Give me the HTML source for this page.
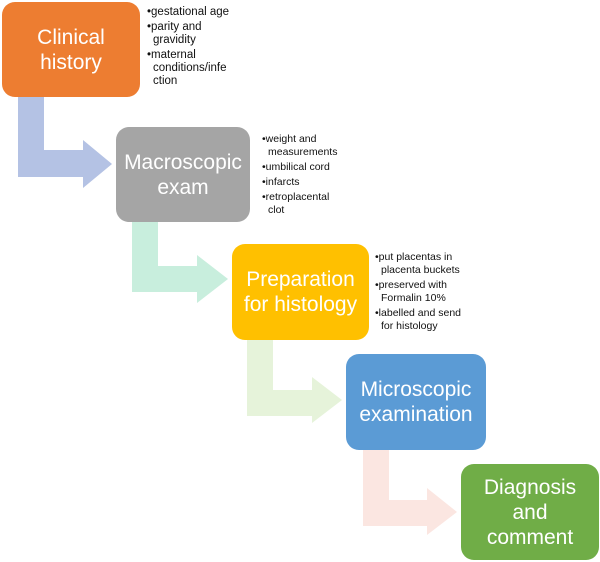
<!DOCTYPE html>
<html><head><style>
body{margin:0;width:600px;height:562px;background:#fff;position:relative;overflow:hidden;font-family:"Liberation Sans",sans-serif}
.b{position:absolute;border-radius:13px;color:#fff;font-size:21px;line-height:25px;display:flex;align-items:center;justify-content:center;text-align:center}
.l{position:absolute;font-size:11.5px;line-height:13px;color:#111}
.l div{padding-left:6px;text-indent:-6px;margin-bottom:2px}
svg{position:absolute;left:0;top:0}
</style></head><body>
<svg width="600" height="562">
<path d="M18 97H44V150H83V140L112 164L83 188V177H18Z" fill="#b4c2e4"/>
<path d="M132 222H158V266H197V255L228 279L197 303V292H132Z" fill="#c8eedd"/>
<path d="M247 340H273V390H312V377L342 400L312 423V416H247Z" fill="#e6f3da"/>
<path d="M363 450H389V500H427V488L457 512L427 535V526H363Z" fill="#fbe6e1"/>
</svg>
<div class="b" style="left:2px;top:2px;width:138px;height:95px;background:#ed7d31">Clinical<br>history</div>
<div class="b" style="left:116px;top:127px;width:134px;height:95px;background:#a5a5a5">Macroscopic<br>exam</div>
<div class="b" style="left:232px;top:244px;width:137px;height:96px;background:#ffc000">Preparation<br>for histology</div>
<div class="b" style="left:346px;top:354px;width:140px;height:96px;background:#5b9bd5">Microscopic<br>examination</div>
<div class="b" style="left:461px;top:464px;width:138px;height:96px;background:#70ad47">Diagnosis<br>and<br>comment</div>
<div class="l" style="left:147px;top:6px;width:92px"><div>•gestational age</div><div>•parity and gravidity</div><div>•maternal conditions/infe ction</div></div>
<div class="l" style="left:262px;top:133px;width:82px;font-size:10.5px"><div>•weight and measurements</div><div>•umbilical cord</div><div>•infarcts</div><div>•retroplacental clot</div></div>
<div class="l" style="left:375px;top:251px;width:92px;font-size:10.5px"><div>•put placentas in placenta buckets</div><div>•preserved with Formalin 10%</div><div>•labelled and send for histology</div></div>
</body></html>
